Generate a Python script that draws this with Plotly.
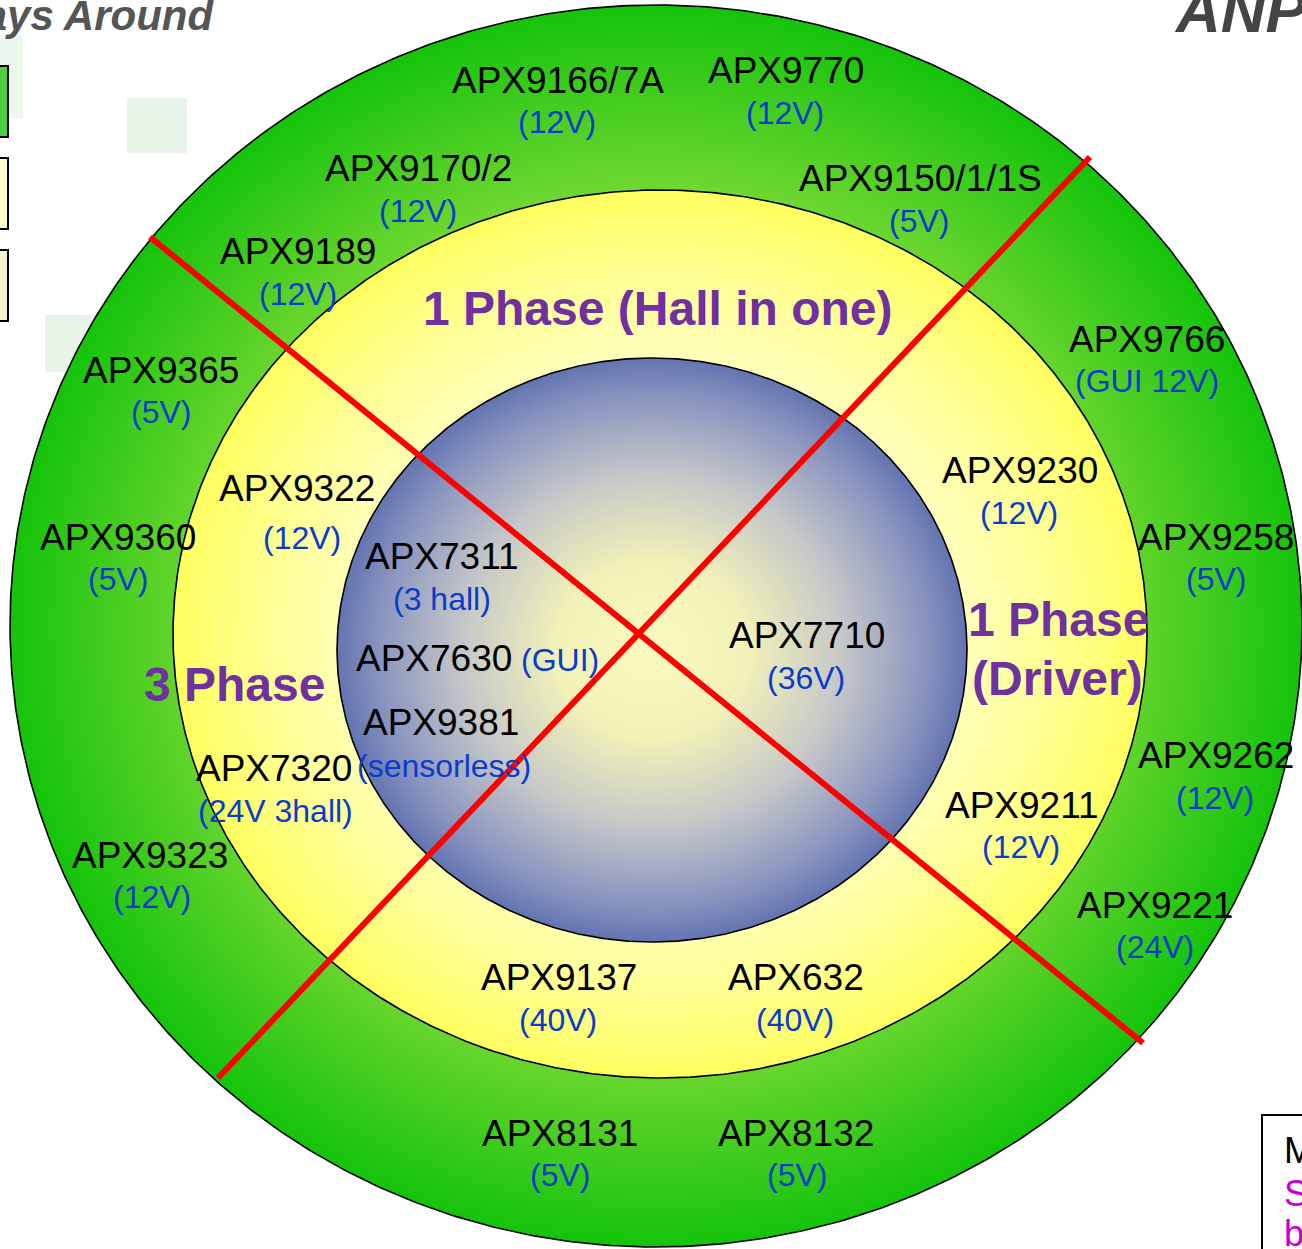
import numpy as np
import plotly.graph_objects as go

# ---------------- data ----------------
part_names = ["APX9166/7A", "APX9770", "APX9170/2", "APX9150/1/1S", "APX9189",
              "APX9365", "APX9766", "APX9322", "APX9230", "APX9360", "APX9258",
              "APX7311", "APX7710", "APX7630", "APX9381", "APX7320", "APX9262",
              "APX9211", "APX9323", "APX9221", "APX9137", "APX632", "APX8131",
              "APX8132"]
part_notes = ["(12V)", "(12V)", "(12V)", "(5V)", "(12V)",
              "(5V)", "(GUI 12V)", "(12V)", "(12V)", "(5V)", "(5V)",
              "(3 hall)", "(36V)", "(GUI)", "(sensorless)", "(24V 3hall)", "(12V)",
              "(12V)", "(12V)", "(24V)", "(40V)", "(40V)", "(5V)",
              "(5V)"]
group_titles = ["1 Phase (Hall in one)", "3 Phase", "1 Phase", "(Driver)"]

# ---------------- layout positions (pixel space) ----------------
name_pos = [(558, 80), (786, 70), (418, 168), (920, 178), (298, 251),
            (161, 370), (1147, 339), (297, 488), (1020, 470), (118, 537), (1216, 537),
            (442, 556), (807, 635), (434, 658), (441, 722), (274, 768), (1216, 755),
            (1022, 805), (150, 855), (1155, 905), (559, 977), (796, 977), (560, 1133),
            (796, 1133)]
note_pos = [(557, 122), (785, 113), (418, 211), (919, 221), (298, 294),
            (161, 412), (1147, 381), (302, 538), (1019, 513), (118, 579), (1216, 579),
            (442, 599), (806, 678), (560, 660), (444, 766), (275, 811), (1215, 798),
            (1021, 847), (152, 897), (1155, 947), (558, 1020), (795, 1020), (560, 1175),
            (797, 1175)]
title_pos = [(657, 308), (234, 684), (1058, 619), (1057, 678)]

W, H = 1302, 1249
FONT = "Liberation Sans, Arial, sans-serif"

# ellipses: (cx, cy, rx, ry, colorscale)
rings = [
    (656, 626, 646, 621, [[0, "#d8f470"], [0.55, "#a8e44c"], [0.72, "#6ad62e"], [0.86, "#40cc1e"], [1.0, "#14c40a"]]),
    (660, 634, 487, 444, [[0, "#ffffd8"], [0.6, "#ffffc0"], [0.8, "#ffff96"], [1.0, "#ffff60"]]),
    (652, 650, 315, 292, [[0, "#fbfbc0"], [0.3, "#f2f2b8"], [0.6, "#c6c8c8"], [0.85, "#8e98c0"], [1.0, "#6474b2"]]),
]

fig = go.Figure()
theta = np.linspace(0, 2 * np.pi, 721)
for cx, cy, rx, ry, cs in rings:
    fig.add_trace(go.Scatter(
        x=cx + rx * np.cos(theta), y=cy + ry * np.sin(theta),
        mode="lines", fill="toself",
        fillgradient=dict(type="radial", colorscale=cs),
        line=dict(color="black", width=1.6),
        hoverinfo="skip", showlegend=False))

# red dividing lines
red_lines = [((150, 237), (1143, 1043)), ((1090, 157), (218, 1078))]
for (x0, y0), (x1, y1) in red_lines:
    fig.add_trace(go.Scatter(x=[x0, x1], y=[y0, y1], mode="lines",
                             line=dict(color="#ff0000", width=6),
                             hoverinfo="skip", showlegend=False))

ann = []
for name, (x, y) in zip(part_names, name_pos):
    ann.append(dict(x=x, y=y, text=name, showarrow=False, xanchor="center", yanchor="middle",
                    font=dict(family=FONT, size=37, color="black")))
for note, (x, y) in zip(part_notes, note_pos):
    ann.append(dict(x=x, y=y, text=note, showarrow=False, xanchor="center", yanchor="middle",
                    font=dict(family=FONT, size=32, color="#0a3ccc")))
for t, (x, y) in zip(group_titles, title_pos):
    ann.append(dict(x=x, y=y, text="<b>" + t + "</b>", showarrow=False, xanchor="center",
                    yanchor="middle", font=dict(family=FONT, size=48, color="#7030a0")))

# slide remnants around the diagram
ann.append(dict(x=216, y=15, text="<b><i>Always Around</i></b>", showarrow=False,
                xanchor="right", yanchor="middle",
                font=dict(family=FONT, size=42, color="#555555")))
ann.append(dict(x=1172, y=10, text="<b><i>ANPEC</i></b>", showarrow=False,
                xanchor="left", yanchor="middle",
                font=dict(family=FONT, size=62, color="#444444")))
for t, y, c in [("M", 1150, "black"), ("S", 1193, "#cc00cc"), ("b", 1233, "#cc00cc")]:
    ann.append(dict(x=1282, y=y, text=t, showarrow=False, xanchor="left", yanchor="middle",
                    font=dict(family=FONT, size=36, color=c)))

shapes = [
    dict(type="rect", x0=127, y0=98, x1=187, y1=153, line=dict(width=0), fillcolor="#e9f4e9", layer="below"),
    dict(type="rect", x0=-5, y0=35, x1=23, y1=118, line=dict(width=0), fillcolor="#edf6ed", layer="below"),
    dict(type="rect", x0=45, y0=315, x1=92, y1=372, line=dict(width=0), fillcolor="#e9f4e9", layer="below"),
    dict(type="rect", x0=-10, y0=66, x1=8, y1=137, line=dict(color="black", width=2), fillcolor="#4cd040", layer="below"),
    dict(type="rect", x0=-10, y0=158, x1=8, y1=229, line=dict(color="black", width=2), fillcolor="#ffffd0", layer="below"),
    dict(type="rect", x0=-10, y0=250, x1=8, y1=321, line=dict(color="black", width=2), fillcolor="#f4f2d4", layer="below"),
    dict(type="rect", x0=1262, y0=1115, x1=1320, y1=1270, line=dict(color="black", width=2), fillcolor="white", layer="below"),
]

fig.update_layout(
    width=W, height=H, margin=dict(l=0, r=0, t=0, b=0),
    paper_bgcolor="white", plot_bgcolor="white",
    xaxis=dict(range=[0, W], visible=False, fixedrange=True),
    yaxis=dict(range=[H, 0], visible=False, fixedrange=True),
    annotations=ann, shapes=shapes, showlegend=False,
)
fig.write_html("out.html", config={"displayModeBar": False},
               post_script="document.body.style.margin='0';document.body.style.overflow='hidden';")
